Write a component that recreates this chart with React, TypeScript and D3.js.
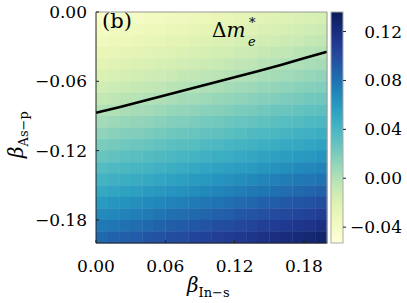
import React from "react";
import * as d3 from "d3";

// cell centres
const betaInS = [
  0.005, 0.015, 0.025, 0.035, 0.045, 0.055, 0.065, 0.075, 0.085, 0.095,
  0.105, 0.115, 0.125, 0.135, 0.145, 0.155, 0.165, 0.175, 0.185, 0.195,
];
const betaAsP = [
  -0.005, -0.015, -0.025, -0.035, -0.045, -0.055, -0.065, -0.075, -0.085, -0.095,
  -0.105, -0.115, -0.125, -0.135, -0.145, -0.155, -0.165, -0.175, -0.185, -0.195,
];

// Δm*_e, one row per betaAsP value, one column per betaInS value
const deltaM = [
  [-0.044, -0.043, -0.041, -0.040, -0.038, -0.037, -0.035, -0.034, -0.032, -0.031, -0.029, -0.028, -0.026, -0.025, -0.023, -0.022, -0.020, -0.019, -0.017, -0.016],
  [-0.039, -0.038, -0.036, -0.035, -0.033, -0.032, -0.030, -0.029, -0.027, -0.026, -0.024, -0.023, -0.021, -0.020, -0.018, -0.017, -0.015, -0.014, -0.012, -0.011],
  [-0.035, -0.033, -0.032, -0.030, -0.028, -0.027, -0.025, -0.024, -0.022, -0.021, -0.019, -0.018, -0.016, -0.015, -0.013, -0.012, -0.010, -0.009, -0.007, -0.006],
  [-0.029, -0.028, -0.026, -0.025, -0.023, -0.022, -0.020, -0.019, -0.017, -0.016, -0.014, -0.013, -0.011, -0.010, -0.008, -0.006, -0.005, -0.003, -0.002, 0.000],
  [-0.024, -0.022, -0.021, -0.019, -0.018, -0.016, -0.015, -0.013, -0.012, -0.010, -0.009, -0.007, -0.005, -0.004, -0.002, -0.001, 0.001, 0.002, 0.004, 0.005],
  [-0.019, -0.017, -0.015, -0.014, -0.012, -0.011, -0.009, -0.007, -0.006, -0.004, -0.003, -0.001, 0.000, 0.002, 0.004, 0.005, 0.007, 0.008, 0.010, 0.012],
  [-0.013, -0.011, -0.009, -0.008, -0.006, -0.005, -0.003, -0.001, 0.000, 0.002, 0.003, 0.005, 0.007, 0.008, 0.010, 0.011, 0.013, 0.015, 0.016, 0.018],
  [-0.007, -0.005, -0.003, -0.002, 0.000, 0.002, 0.003, 0.005, 0.006, 0.008, 0.010, 0.011, 0.013, 0.015, 0.016, 0.018, 0.020, 0.021, 0.023, 0.024],
  [0.000, 0.001, 0.003, 0.005, 0.006, 0.008, 0.010, 0.011, 0.013, 0.015, 0.016, 0.018, 0.020, 0.021, 0.023, 0.025, 0.026, 0.028, 0.030, 0.031],
  [0.006, 0.008, 0.010, 0.011, 0.013, 0.015, 0.017, 0.018, 0.020, 0.022, 0.023, 0.025, 0.027, 0.028, 0.030, 0.032, 0.034, 0.035, 0.037, 0.039],
  [0.013, 0.015, 0.017, 0.018, 0.020, 0.022, 0.024, 0.025, 0.027, 0.029, 0.030, 0.032, 0.034, 0.036, 0.037, 0.039, 0.041, 0.043, 0.044, 0.046],
  [0.020, 0.022, 0.024, 0.025, 0.027, 0.029, 0.031, 0.033, 0.034, 0.036, 0.038, 0.040, 0.042, 0.043, 0.045, 0.047, 0.049, 0.050, 0.052, 0.054],
  [0.027, 0.029, 0.031, 0.033, 0.035, 0.036, 0.038, 0.040, 0.042, 0.044, 0.046, 0.047, 0.049, 0.051, 0.053, 0.055, 0.057, 0.058, 0.060, 0.062],
  [0.035, 0.037, 0.039, 0.040, 0.042, 0.044, 0.046, 0.048, 0.050, 0.052, 0.054, 0.056, 0.057, 0.059, 0.061, 0.063, 0.065, 0.067, 0.069, 0.071],
  [0.042, 0.044, 0.046, 0.048, 0.050, 0.052, 0.054, 0.056, 0.058, 0.060, 0.062, 0.064, 0.066, 0.068, 0.070, 0.072, 0.074, 0.076, 0.077, 0.079],
  [0.050, 0.052, 0.054, 0.056, 0.058, 0.060, 0.062, 0.064, 0.066, 0.068, 0.070, 0.072, 0.074, 0.076, 0.078, 0.080, 0.082, 0.084, 0.086, 0.088],
  [0.058, 0.061, 0.063, 0.065, 0.067, 0.069, 0.071, 0.073, 0.075, 0.077, 0.079, 0.081, 0.083, 0.085, 0.088, 0.090, 0.092, 0.094, 0.096, 0.098],
  [0.067, 0.069, 0.071, 0.073, 0.075, 0.078, 0.080, 0.082, 0.084, 0.086, 0.088, 0.090, 0.093, 0.095, 0.097, 0.099, 0.101, 0.103, 0.105, 0.108],
  [0.076, 0.078, 0.080, 0.082, 0.084, 0.087, 0.089, 0.091, 0.093, 0.095, 0.098, 0.100, 0.102, 0.104, 0.107, 0.109, 0.111, 0.113, 0.115, 0.118],
  [0.084, 0.087, 0.089, 0.091, 0.094, 0.096, 0.098, 0.100, 0.103, 0.105, 0.107, 0.110, 0.112, 0.114, 0.117, 0.119, 0.121, 0.123, 0.126, 0.128],
];

// zero contour of Δm*_e
const contourX = [0, 0.02, 0.04, 0.06, 0.08, 0.1, 0.12, 0.14, 0.16, 0.18, 0.2];
const contourY = [-0.0872, -0.0824, -0.0772, -0.0721, -0.0669, -0.0617, -0.0564, -0.0512, -0.0458, -0.0401, -0.0344];

const xTicks = [0, 0.06, 0.12, 0.18];
const yTicks = [0, -0.06, -0.12, -0.18];
const cbTicks = [-0.04, 0, 0.04, 0.08, 0.12];
const cbRange = [-0.053, 0.136];

const serif = "'DejaVu Serif', serif";

const App = () => {
  const left = 96;
  const top = 12;
  const size = 231;
  const cbX = 331;
  const cbW = 12;

  const x = d3.scaleLinear().domain([0, 0.2]).range([left, left + size]);
  const y = d3.scaleLinear().domain([0, -0.2]).range([top, top + size]);
  const cbY = d3.scaleLinear().domain(cbRange).range([top + size, top]);
  const color = d3.scaleSequential(d3.interpolateYlGnBu).domain(cbRange);
  const fmt = d3.format(".2f");
  const half = 0.005;

  const line = d3
    .line<number>()
    .x((d, i) => x(contourX[i]))
    .y((d) => y(d));

  const stops = d3.range(0, 1.0001, 0.05);
  const txt = { fontFamily: serif };

  return (
    <svg
      width={407}
      height={303}
      style={{ position: "absolute", left: 0, top: 0, background: "#fff" }}
    >
      <defs>
        <linearGradient id="cb" x1="0" y1="1" x2="0" y2="0">
          {stops.map((t) => (
            <stop key={t} offset={t} stopColor={d3.interpolateYlGnBu(t)} />
          ))}
        </linearGradient>
      </defs>

      {deltaM.map((row, j) =>
        row.map((v, i) => (
          <rect
            key={`${i}-${j}`}
            x={x(betaInS[i] - half)}
            y={y(betaAsP[j] + half)}
            width={x(betaInS[i] + half) - x(betaInS[i] - half) + 0.4}
            height={y(betaAsP[j] - half) - y(betaAsP[j] + half) + 0.4}
            fill={color(v)}
          />
        ))
      )}

      <path
        d={line(contourY) || ""}
        fill="none"
        stroke="#000"
        strokeWidth={2.6}
      />

      {/* frame */}
      <line x1={left} x2={left + size} y1={top} y2={top} stroke="#999" />
      <line x1={left + size} x2={left + size} y1={top} y2={top + size} stroke="#999" />
      <line x1={left} x2={left} y1={top} y2={top + size} stroke="#222" />
      <line x1={left} x2={left + size} y1={top + size} y2={top + size} stroke="#222" />

      {xTicks.map((t) => (
        <g key={t}>
          <line x1={x(t)} x2={x(t)} y1={top + size} y2={top + size - 3} stroke="#222" />
          <text x={x(t)} y={272} textAnchor="middle" style={txt} fontSize={17}>
            {fmt(t)}
          </text>
        </g>
      ))}
      {yTicks.map((t) => (
        <g key={t}>
          <line x1={left} x2={left + 3} y1={y(t)} y2={y(t)} stroke="#222" />
          <text x={87} y={y(t) + 6} textAnchor="end" style={txt} fontSize={17}>
            {fmt(t)}
          </text>
        </g>
      ))}

      {/* colorbar */}
      <rect x={cbX} y={top} width={cbW} height={size} fill="url(#cb)" stroke="#aaa" />
      {cbTicks.map((t) => (
        <g key={t}>
          <line x1={cbX + cbW} x2={cbX + cbW + 3} y1={cbY(t)} y2={cbY(t)} stroke="#222" />
          <text x={402} y={cbY(t) + 6} textAnchor="end" style={txt} fontSize={17}>
            {fmt(t)}
          </text>
        </g>
      ))}

      {/* labels */}
      <text x={102} y={28} style={txt} fontSize={21}>
        (b)
      </text>
      <text x={212} y={37} style={txt} fontSize={20}>
        Δ<tspan fontStyle="italic">m</tspan>
      </text>
      <text x={249} y={27} style={txt} fontSize={13}>
        *
      </text>
      <text x={248} y={46} style={txt} fontSize={13} fontStyle="italic">
        e
      </text>

      <text x={187} y={292} style={txt} fontSize={20}>
        <tspan fontStyle="italic">β</tspan>
        <tspan fontSize={13} dy={5}>In−s</tspan>
      </text>
      <text transform="translate(23,158) rotate(-90)" style={txt} fontSize={20}>
        <tspan fontStyle="italic">β</tspan>
        <tspan fontSize={13} dy={5}>As−p</tspan>
      </text>
    </svg>
  );
};

export default App;
